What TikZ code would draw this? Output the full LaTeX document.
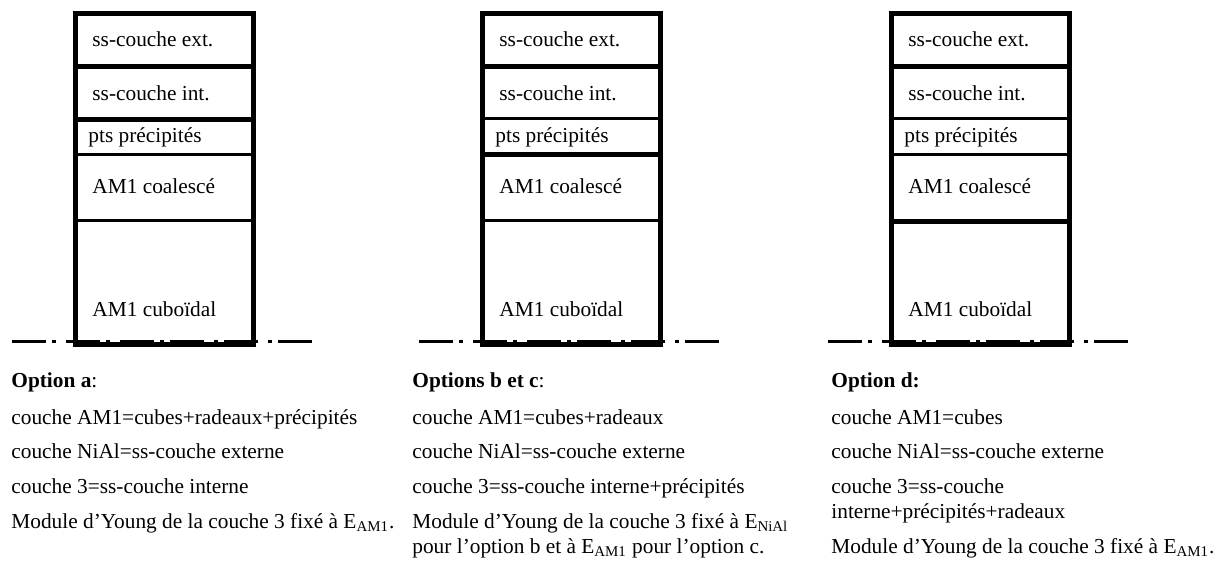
\documentclass[tikz,border=0pt]{standalone}
\usepackage{fontspec}
\setmainfont{Liberation Serif}
\newcommand{\stackcol}[4]{%
\begin{scope}[shift={(#1,0)}]
 \coordinate (#4mid) at (89,341.5);
 \coordinate (#4L) at (-63.5,341.5);
 \coordinate (#4R) at (236.5,341.5);
 \draw[axisline] (#4L) -- (#4mid);
 \draw[axisline] (#4R) -- (#4mid);
 \foreach \yy in {#2} \draw[thinrule] (0,\yy) -- (178,\yy);
 \foreach \yy in {#3} \draw[thickrule] (0,\yy) -- (178,\yy);
 \draw[thickrule] (0,13.5) rectangle (178,344.5);
 \node[txt] (#4ext) at (16.5,46) {ss-couche ext.};
 \node[txt] (#4int) at (16.5,100) {ss-couche int.};
 \node[txt] (#4pts) at (12.5,142) {pts précipités};
 \node[txt] (#4coa) at (16.5,193) {AM1 coalescé};
 \node[txt] (#4cub) at (16.5,316) {AM1 cuboïdal};
\end{scope}}
\begin{document}
\begin{tikzpicture}[x=0.5pt,y=-0.5pt,
  txt/.style={anchor=base west, inner sep=0pt, font=\fontsize{10.67}{12}\selectfont},
  thinrule/.style={line width=1.5pt},
  thickrule/.style={line width=2.5pt, line join=miter},
  axisline/.style={line width=1.6pt, dash pattern=on 17pt off 3pt on 2pt off 5pt}]
\useasboundingbox (0,0) rectangle (1219,570);
\stackcol{75.5}{154,220.5}{66.5,119.5}{a}
\stackcol{482.5}{118.5,220.5}{66.5,154.5}{b}
\stackcol{891.5}{118.5,154}{66.5,221.5}{d}
% option a
\node[txt] (a1) at (11,387) {\textbf{Option a}:};
\node[txt] (a2) at (11,424) {couche AM1=cubes+radeaux+précipités};
\node[txt] (a3) at (11,458) {couche NiAl=ss-couche externe};
\node[txt] (a4) at (11,493) {couche 3=ss-couche interne};
\node[txt] (a5) at (11,528) {Module d’Young de la couche 3 fixé à E\textsubscript{AM1}.};
% options b et c
\node[txt] (b1) at (412,387) {\textbf{Options b et c}:};
\node[txt] (b2) at (412,424) {couche AM1=cubes+radeaux};
\node[txt] (b3) at (412,458) {couche NiAl=ss-couche externe};
\node[txt] (b4) at (412,493) {couche 3=ss-couche interne+précipités};
\node[txt] (b5) at (412,528) {Module d’Young de la couche 3 fixé à E\textsubscript{NiAl}};
\node[txt] (b6) at (412,553) {pour l’option b et à E\textsubscript{AM1} pour l’option c.};
% option d
\node[txt] (d1) at (831,387) {\textbf{Option d:}};
\node[txt] (d2) at (831,424) {couche AM1=cubes};
\node[txt] (d3) at (831,458) {couche NiAl=ss-couche externe};
\node[txt] (d4) at (831,493) {couche 3=ss-couche};
\node[txt] (d5) at (831,518) {interne+précipités+radeaux};
\node[txt] (d6) at (831,553) {Module d’Young de la couche 3 fixé à E\textsubscript{AM1}.};
\end{tikzpicture}
\end{document}
